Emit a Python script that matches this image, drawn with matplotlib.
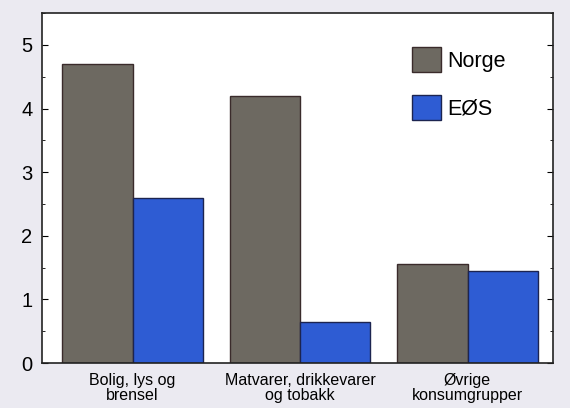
import matplotlib.pyplot as plt
import numpy as np
from matplotlib.ticker import MultipleLocator

categories = ["Bolig, lys og\nbrensel", "Matvarer, drikkevarer\nog tobakk", "Øvrige\nkonsumgrupper"]
series_names = ["Norge", "EØS"]
norge = [4.7, 4.2, 1.55]
eos = [2.6, 0.65, 1.45]
yticks = [0, 1, 2, 3, 4, 5]

plt.rcParams['font.family'] = ['Liberation Sans', 'DejaVu Sans']

fig = plt.figure(figsize=(5.7, 4.08), dpi=100, facecolor='#ebeaf1')
ax = fig.add_axes([0.074, 0.110, 0.896, 0.858])
ax.set_facecolor('white')

x = np.arange(len(categories))
w = 0.42
ax.bar(x - w / 2, norge, w, color='#6d6961', edgecolor='#3a2b2b', linewidth=1.0, label=series_names[0])
ax.bar(x + w / 2, eos, w, color='#2e5cd3', edgecolor='#1c2450', linewidth=1.0, label=series_names[1])

ax.set_xlim(-0.54, 2.51)
ax.set_ylim(0, 5.5)
ax.set_yticks(yticks)
ax.set_yticklabels([str(t) for t in yticks], fontsize=14.5)
ax.yaxis.set_minor_locator(MultipleLocator(0.5))
ax.tick_params(axis='y', which='major', direction='in', length=4, width=0.8, right=True, pad=7)
ax.tick_params(axis='y', which='minor', direction='in', length=2, width=0.6, right=True)
ax.set_xticks(x)
ax.set_xticklabels(categories, fontsize=11.5, linespacing=1.05)
ax.tick_params(axis='x', length=0, pad=7)
for s in ax.spines.values():
    s.set_linewidth(1.2)
    s.set_color('#222222')

ax.legend(loc='upper left', bbox_to_anchor=(0.724, 0.902), frameon=False, fontsize=15.5,
          handlelength=1.35, handleheight=1.4, labelspacing=1.05, handletextpad=0.28,
          borderaxespad=0, borderpad=0)

fig.savefig('out.png', dpi=100, facecolor=fig.get_facecolor())
